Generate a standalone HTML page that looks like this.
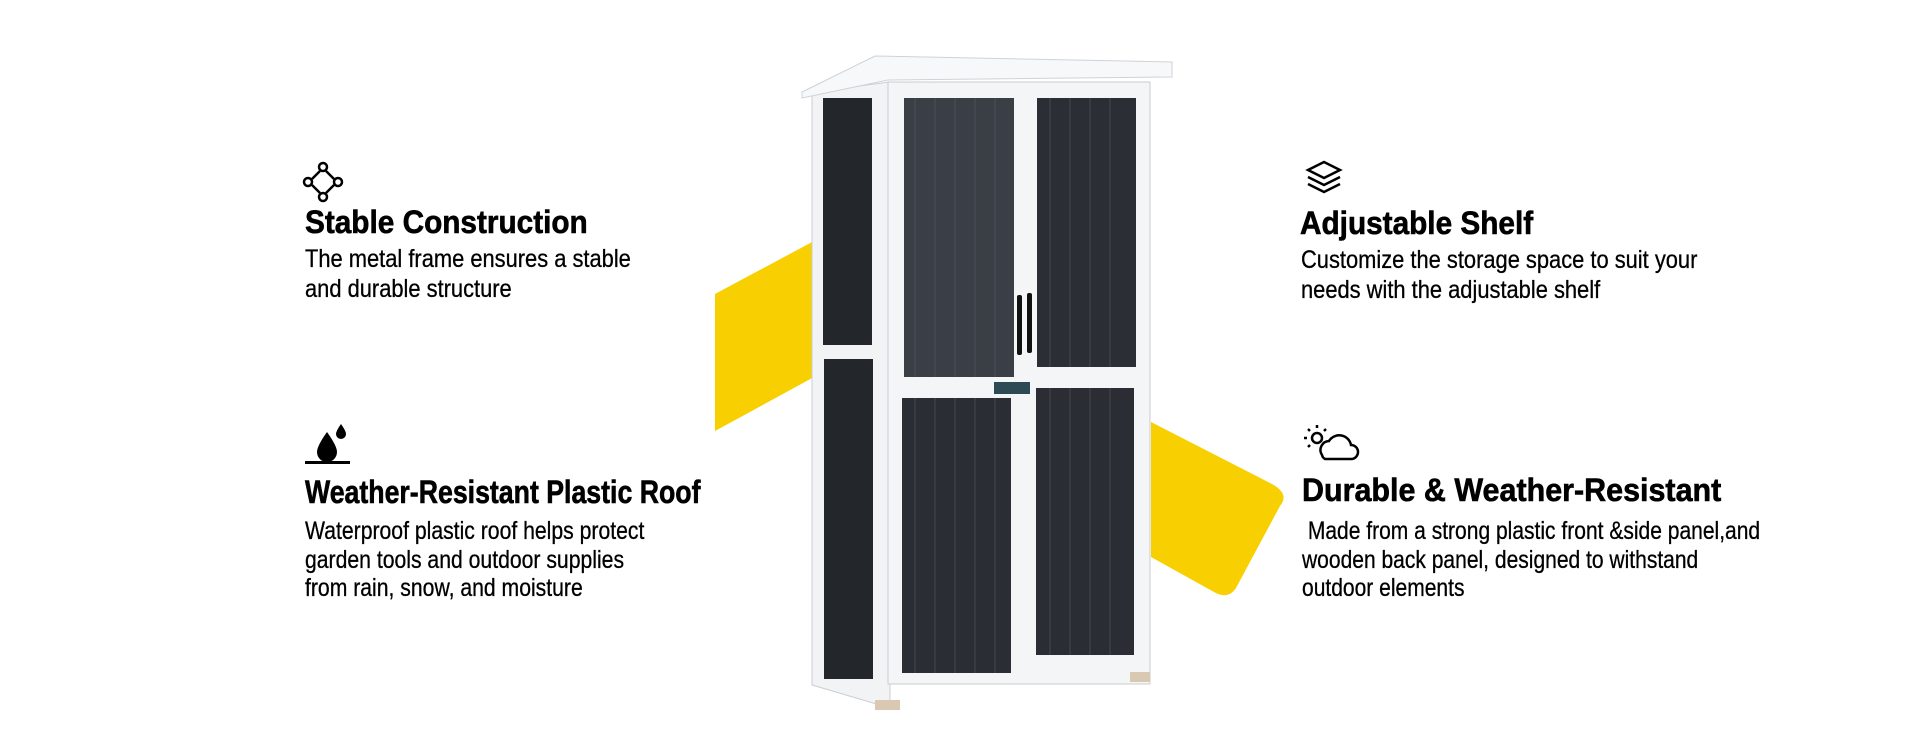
<!DOCTYPE html>
<html><head><meta charset="utf-8"><style>
body{margin:0;width:1920px;height:750px;background:#fff;position:relative;overflow:hidden;font-family:"Liberation Sans",sans-serif;color:#000}
.t{position:absolute;font-weight:bold;font-size:32px;line-height:1;white-space:nowrap;transform:scaleX(.93);transform-origin:left top;-webkit-text-stroke:0.6px #000}
.b{position:absolute;font-size:25px;line-height:29.5px;white-space:nowrap;transform:scaleX(.875);transform-origin:left top;-webkit-text-stroke:0.3px #000}
svg{position:absolute;left:0;top:0}
</style></head><body>
<svg width="1920" height="750">
<polygon points="715,294 814,241 814,377 715,431" fill="#f8cf00"/>
<path d="M1151,422 L1272,484 Q1290,494 1280,506 L1236,588 Q1228,600 1214,592 L1151,557 Z" fill="#f8cf00"/>
<polygon points="812,92 890,82 890,708 812,685" fill="#f2f3f5" stroke="#c9ccd2"/>
<rect x="823" y="98" width="49" height="247" fill="#23262b"/>
<rect x="824" y="359" width="49" height="320" fill="#23262b"/>
<rect x="888" y="82" width="262" height="602" fill="#f4f5f7" stroke="#c9ccd2"/>
<rect x="904" y="98" width="110" height="279" fill="#3a3e45"/>
<rect x="1037" y="98" width="99" height="269" fill="#2b2f35"/>
<rect x="902" y="398" width="109" height="275" fill="#2a2d33"/>
<rect x="1036" y="388" width="98" height="267" fill="#2a2d33"/>
<g stroke="#555a62" stroke-width="1" opacity=".6">
<line x1="915" y1="98" x2="915" y2="377"/><line x1="935" y1="98" x2="935" y2="377"/><line x1="955" y1="98" x2="955" y2="377"/><line x1="975" y1="98" x2="975" y2="377"/><line x1="995" y1="98" x2="995" y2="377"/>
<line x1="1050" y1="98" x2="1050" y2="367"/><line x1="1070" y1="98" x2="1070" y2="367"/><line x1="1090" y1="98" x2="1090" y2="367"/><line x1="1110" y1="98" x2="1110" y2="367"/>
<line x1="915" y1="398" x2="915" y2="673"/><line x1="935" y1="398" x2="935" y2="673"/><line x1="955" y1="398" x2="955" y2="673"/><line x1="975" y1="398" x2="975" y2="673"/><line x1="995" y1="398" x2="995" y2="673"/>
<line x1="1050" y1="388" x2="1050" y2="655"/><line x1="1070" y1="388" x2="1070" y2="655"/><line x1="1090" y1="388" x2="1090" y2="655"/><line x1="1110" y1="388" x2="1110" y2="655"/>
</g>
<rect x="1017" y="295" width="5" height="60" rx="2" fill="#111"/><rect x="1027" y="293" width="5" height="60" rx="2" fill="#111"/>
<rect x="994" y="382" width="36" height="12" fill="#2d4a55"/>
<polygon points="802,92 875,56 1172,62 1172,77 888,80 802,98" fill="#f7f8fa" stroke="#cfd2d6"/>
<rect x="875" y="700" width="25" height="10" fill="#d9c9b3"/><rect x="1130" y="672" width="20" height="10" fill="#d9c9b3"/>
<g fill="none" stroke="#000" stroke-width="2.5">
<circle cx="323" cy="167" r="4"/><circle cx="308" cy="182" r="4"/><circle cx="338" cy="182" r="4"/><circle cx="323" cy="197" r="4"/>
<line x1="312" y1="179" x2="320" y2="171"/><line x1="326" y1="171" x2="334" y2="179"/><line x1="334" y1="185" x2="326" y2="193"/><line x1="320" y1="193" x2="312" y2="185"/>
<path d="M1308,170 l16,-8 l16,8 l-16,8 z M1308,177 l16,8 l16,-8 M1308,184 l16,8 l16,-8"/>
<path d="M1322,455 a9,9 0 0 1 7,-14 a12,12 0 0 1 22,4 a7,7 0 0 1 0,14 h-26 a6,6 0 0 1 -3,-4 z"/>
<circle cx="1317" cy="438" r="5"/>
<path d="M1317,428v-3M1307,438h-3M1310,431l-2,-2M1324,431l2,-2M1310,445l-2,2"/>
</g>
<path d="M327,432 q-10,14 -10,20 a10,10 0 0 0 20,0 q0,-6 -10,-20z" fill="#000"/>
<path d="M341,424 q-5,7 -5,10 a5,5 0 0 0 10,0 q0,-3 -5,-10z" fill="#000"/>
<rect x="305" y="461" width="45" height="3" fill="#000"/>
</svg>
<div class="t" style="left:305px;top:206px">Stable Construction</div>
<div class="b" style="left:305px;top:245px">The metal frame ensures a stable<br>and durable structure</div>
<div class="t" style="left:305px;top:476px;transform:scaleX(.834)">Weather-Resistant Plastic Roof</div>
<div class="b" style="left:305px;top:517px;line-height:28.5px;transform:scaleX(.847)">Waterproof plastic roof helps protect<br>garden tools and outdoor supplies<br>from rain, snow, and moisture</div>
<div class="t" style="left:1300px;top:207px">Adjustable Shelf</div>
<div class="b" style="left:1301px;top:246px">Customize the storage space to suit your<br>needs with the adjustable shelf</div>
<div class="t" style="left:1302px;top:474px;transform:scaleX(.952)">Durable &amp; Weather-Resistant</div>
<div class="b" style="left:1302px;top:517px;line-height:28.5px;transform:scaleX(.841)">&nbsp;Made from a strong plastic front &amp;side panel,and<br>wooden back panel, designed to withstand<br>outdoor elements</div>
</body></html>
